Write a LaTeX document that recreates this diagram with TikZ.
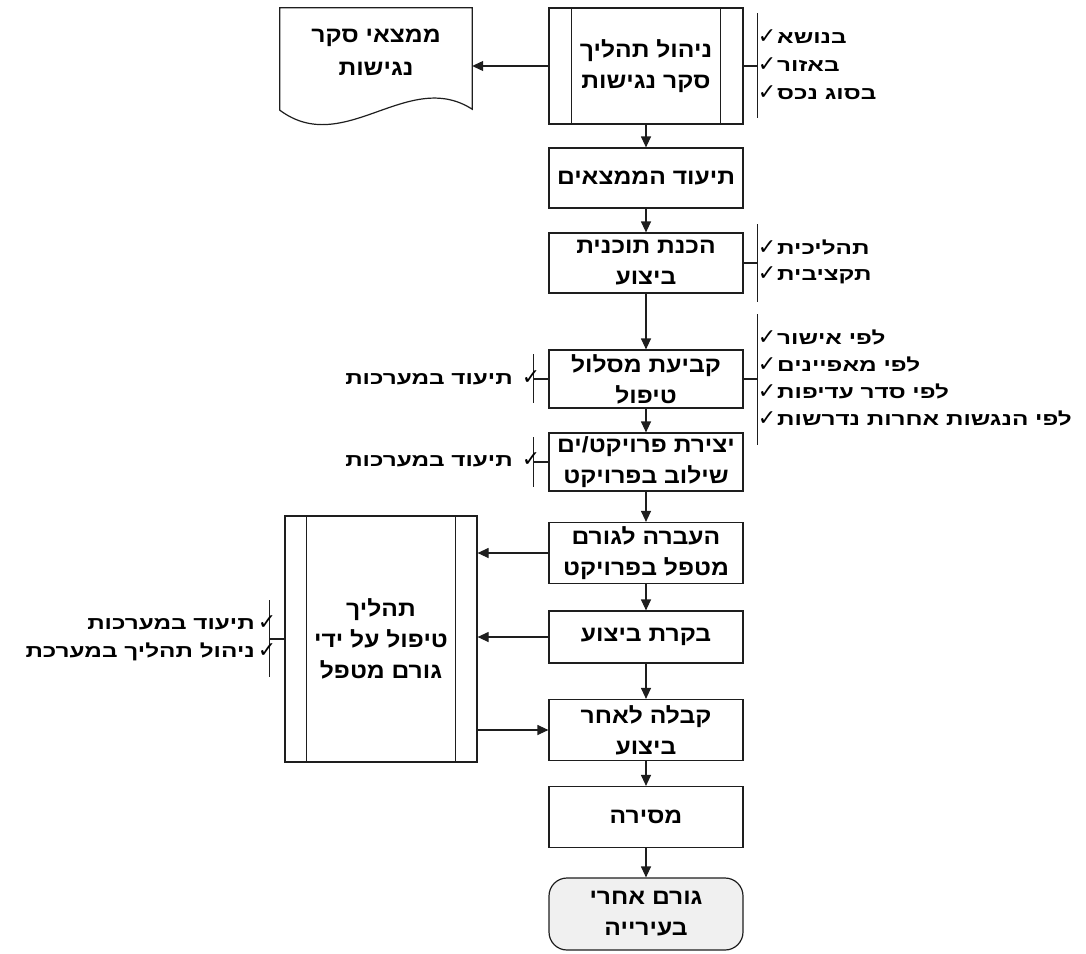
\documentclass[tikz,border=0pt]{standalone}
\usepackage{fontspec}
\usetikzlibrary{arrows.meta}
\TeXXeTstate=1
\newfontfamily\hebbox[Script=Hebrew,FakeStretch=1.12]{Liberation Sans}
\newfontfamily\hebitem[Script=Hebrew,FakeStretch=1.35]{Liberation Sans}
\newfontfamily\tickfont{DejaVu Sans}
\newcommand{\heb}[1]{{\beginR #1\endR}}
\newcommand{\tickmark}{{\tickfont\fontsize{22}{22}\selectfont ✓}}
\definecolor{linec}{HTML}{1E1E1E}
\definecolor{termfill}{HTML}{F0F0F0}
\begin{document}
\begin{tikzpicture}[x=1pt,y=-1pt,
    box/.style={draw=linec,line width=1.2pt,fill=white,minimum width=194pt,inner sep=2pt,
      align=center,font=\hebbox\bfseries\fontsize{22}{31}\selectfont},
    plain/.style={inner sep=0pt,align=center,font=\hebbox\bfseries\fontsize{22}{33}\selectfont},
    line/.style={draw=linec,line width=1.2pt},
    arr/.style={draw=linec,line width=1.2pt,-{Triangle[length=11pt,width=10pt]}},
    item/.style={inner sep=0pt,font=\hebitem\bfseries\fontsize{18}{18}\selectfont}]
  \useasboundingbox (0,0) rectangle (1086,953);
  \node[box,minimum height=116pt] (survey) at (646,66) {\heb{ניהול תהליך}\\\heb{סקר נגישות}};
  \draw[line] ([xshift=23pt]survey.north west) -- ([xshift=23pt]survey.south west)
    ([xshift=-23pt]survey.north east) -- ([xshift=-23pt]survey.south east);
  \node[box,minimum height=60pt] (record) at (646,178) {\heb{תיעוד הממצאים}};
  \node[box,minimum height=60pt] (plan) at (646,263) {\heb{הכנת תוכנית}\\\heb{ביצוע}};
  \node[box,minimum height=58pt] (route) at (646,379) {\heb{קביעת מסלול}\\\heb{טיפול}};
  \node[box,minimum height=58pt] (project) at (646,462) {\heb{יצירת פרויקט/ים}\\\heb{שילוב בפרויקט}};
  \node[box,minimum height=61pt] (transfer) at (646,553) {\heb{העברה לגורם}\\\heb{מטפל בפרויקט}};
  \node[box,minimum height=52pt] (control) at (646,637) {\heb{בקרת ביצוע}};
  \node[box,minimum height=61pt] (accept) at (646,730) {\heb{קבלה לאחר}\\\heb{ביצוע}};
  \node[box,minimum height=61pt] (deliver) at (646,817) {\heb{מסירה}};
  \node[box,rounded corners=18pt,fill=termfill,minimum height=72pt] (city) at (646,914) {\heb{גורם אחרי}\\\heb{בעירייה}};
  \foreach \a/\b in {survey/record,record/plan,plan/route,route/project,project/transfer,
      transfer/control,control/accept,accept/deliver,deliver/city}
    \draw[arr] (\a) -- (\b);

  \node[plain,minimum width=192pt,minimum height=88pt] (findings) at (376,52) {\heb{ממצאי סקר}\\\heb{נגישות}};
  \draw[line] (findings.north west) -- (findings.north east) -- ([yshift=-13pt]findings.south east)
    .. controls (408,68) and (344,158) .. ([yshift=-14pt]findings.south west) -- cycle;
  \draw[arr] (survey.west) -- (survey.west -| findings.east);

  \node[box,minimum width=192pt,minimum height=246pt] (handling) at (381,639) {\heb{תהליך}\\\heb{טיפול על ידי}\\\heb{גורם מטפל}};
  \draw[line] ([xshift=22pt]handling.north west) -- ([xshift=22pt]handling.south west)
    ([xshift=-22pt]handling.north east) -- ([xshift=-22pt]handling.south east);
  \draw[arr] (transfer.west) -- (transfer.west -| handling.east);
  \draw[arr] (control.west) -- (control.west -| handling.east);
  \draw[arr] (accept.west -| handling.east) -- (accept.west);

  \draw[line] (survey.east) -- ++(14,0) coordinate (survey-r);
  \draw[line] ([yshift=53pt]survey-r) -- ([yshift=-52pt]survey-r);
  \foreach \lbl/\dy in {בנושא/-29,באזור/-1,בסוג נכס/27}
    \node[item,anchor=west] at ([shift={(0,\dy)}]survey-r) {\tickmark\hspace{1pt}\heb{\lbl}};
  \draw[line] (plan.east) -- ++(14,0) coordinate (plan-r);
  \draw[line] ([yshift=39pt]plan-r) -- ([yshift=-39pt]plan-r);
  \foreach \lbl/\dy in {תהליכית/-16,תקציבית/12}
    \node[item,anchor=west] at ([shift={(0,\dy)}]plan-r) {\tickmark\hspace{1pt}\heb{\lbl}};
  \draw[line] (route.east) -- ++(14,0) coordinate (route-r);
  \draw[line] ([yshift=65pt]route-r) -- ([yshift=-66pt]route-r);
  \foreach \lbl/\dy in {לפי אישור/-42,לפי מאפיינים/-15,לפי סדר עדיפות/12,לפי הנגשות אחרות נדרשות/39}
    \node[item,anchor=west] at ([shift={(0,\dy)}]route-r) {\tickmark\hspace{1pt}\heb{\lbl}};

  \draw[line] (route.west) -- ++(-15,0) coordinate (route-l);
  \draw[line] ([yshift=25pt]route-l) -- ([yshift=-24pt]route-l);
  \node[item,anchor=east] at ([shift={(7,-1)}]route-l) {\heb{תיעוד במערכות}\hspace{9pt}\tickmark};
  \draw[line] (project.west) -- ++(-15,0) coordinate (project-l);
  \draw[line] ([yshift=25pt]project-l) -- ([yshift=-25pt]project-l);
  \node[item,anchor=east] at ([shift={(7,-2)}]project-l) {\heb{תיעוד במערכות}\hspace{9pt}\tickmark};
  \draw[line] (handling.west) -- ++(-15,0) coordinate (handling-l);
  \draw[line] ([yshift=39pt]handling-l) -- ([yshift=-38pt]handling-l);
  \foreach \lbl/\dy in {תיעוד במערכות/-16,ניהול תהליך במערכת/13}
    \node[item,anchor=east] at ([shift={(7,\dy)}]handling-l) {\heb{\lbl}\hspace{3pt}\tickmark};
\end{tikzpicture}
\end{document}
